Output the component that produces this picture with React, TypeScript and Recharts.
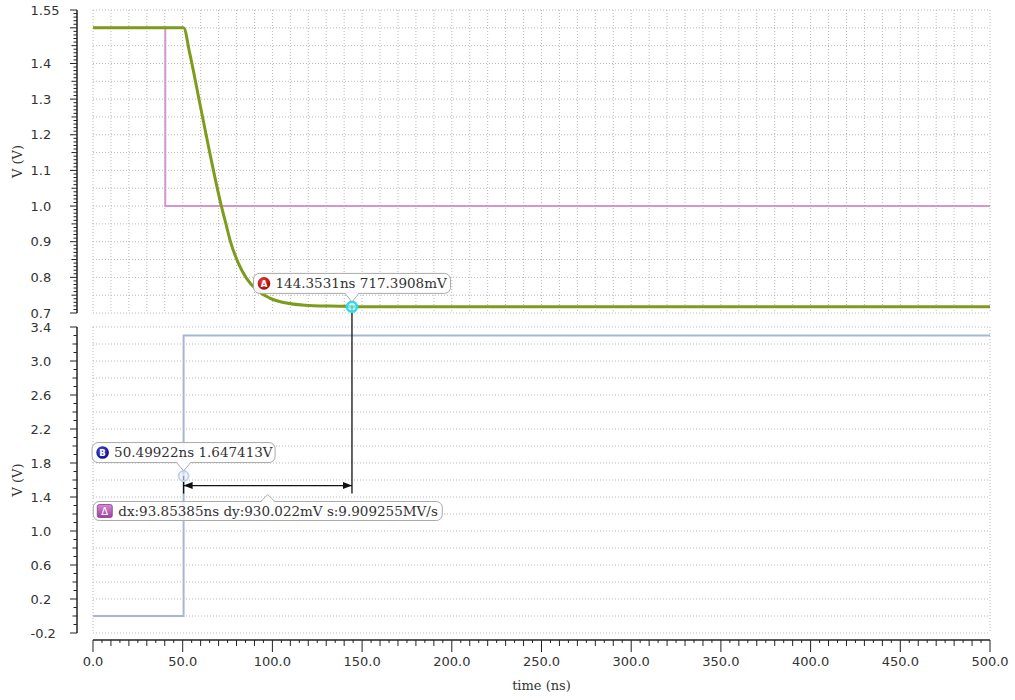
import React from "react";
import {
  LineChart,
  Line,
  XAxis,
  YAxis,
  CartesianGrid,
  ReferenceLine,
  ReferenceDot,
} from "recharts";

// ---------------- data ----------------
const GREEN_T = [0, 50.5, 53.9, 59.5, 65.1, 71.6, 74.0, 76.3, 81.0, 85.5, 91.1, 98.5, 107.8, 122.7, 141.3, 144.3531, 200, 500];
const GREEN_V = [1.5, 1.5, 1.429, 1.289, 1.149, 0.999, 0.952, 0.906, 0.84, 0.798, 0.7655, 0.742, 0.728, 0.7206, 0.7186, 0.7173908, 0.7172, 0.7172];

const PINK_T = [0, 40.3, 40.3, 500];
const PINK_V = [1.5, 1.5, 1.0, 1.0];

const BLUE_T = [0, 50.5, 50.5, 500];
const BLUE_V = [0, 0, 3.3, 3.3];

const MARKER_A = { t: 144.3531, v: 0.7173908 };
const MARKER_B = { t: 50.49922, v: 1.647413 };
const LABEL_A = "144.3531ns 717.3908mV";
const LABEL_B = "50.49922ns 1.647413V";
const LABEL_DELTA = "dx:93.85385ns dy:930.022mV s:9.909255MV/s";
const DELTA_ARROW_V = 1.535;
const DELTA_FOOT_V = 1.44;

const X_DOMAIN: [number, number] = [0, 500];
const TOP_Y_DOMAIN: [number, number] = [0.7, 1.55];
const BOT_Y_DOMAIN: [number, number] = [-0.2, 3.4];

const TOP_Y_LABELS = ["1.55", "1.4", "1.3", "1.2", "1.1", "1.0", "0.9", "0.8", "0.7"];
const BOT_Y_LABELS = ["3.4", "3.0", "2.6", "2.2", "1.8", "1.4", "1.0", "0.6", "0.2", "-0.2"];
const X_LABELS = ["0.0", "50.0", "100.0", "150.0", "200.0", "250.0", "300.0", "350.0", "400.0", "450.0", "500.0"];

const Y_TITLE = "V (V)";
const X_TITLE = "time (ns)";

// ---------------- helpers ----------------
function range(a: number, b: number, step: number): number[] {
  const n = Math.round((b - a) / step);
  return Array.from({ length: n + 1 }, (_, i) => Math.round((a + i * step) * 1000) / 1000);
}
const TOP_Y_TICKS = range(0.7, 1.55, 0.01);
const TOP_GRID_TICKS = range(0.7, 1.55, 0.05);
const BOT_Y_TICKS = range(-0.2, 3.4, 0.1);
const BOT_GRID_TICKS = range(-0.2, 3.4, 0.2);
const X_TICKS = range(0, 500, 5);
const X_GRID_TICKS = range(0, 500, 10);

const toData = (ts: number[], vs: number[]) => ts.map((t, i) => ({ t, v: vs[i] }));
const GREEN_DATA = toData(GREEN_T, GREEN_V);
const PINK_DATA = toData(PINK_T, PINK_V);
const BLUE_DATA = toData(BLUE_T, BLUE_V);

const SERIF = '"DejaVu Serif", serif';
const SANS = '"DejaVu Sans", sans-serif';
const TEXT = "#333";
const AXIS = "#222";
const GRID = "#b8b8b8";

function findLabel(labels: string[], v: number) {
  return labels.find((l) => Math.abs(parseFloat(l) - v) < 1e-6);
}

function makeYTick(labels: string[], lenOf: (k: number, lab?: string) => number) {
  return (props: any) => {
    const { x, y, payload } = props;
    const v = payload.value;
    const lab = findLabel(labels, v);
    const k = Math.round(v * 100);
    const len = lenOf(k, lab);
    return (
      <g>
        <line x1={x} x2={x - len} y1={y} y2={y} stroke={AXIS} strokeWidth={1} />
        {lab && (
          <text x={x - 46.5} y={y} dy={4.7} textAnchor="start" fontSize={13} fontFamily={SANS} fill={TEXT}>
            {lab}
          </text>
        )}
      </g>
    );
  };
}

const TopYTick = makeYTick(TOP_Y_LABELS, (k, lab) => (lab || k % 10 === 0 ? 7 : k % 5 === 0 ? 5.5 : 3.5));
const BotYTick = makeYTick(BOT_Y_LABELS, (k, lab) => (lab ? 7 : k % 20 === 0 ? 4.5 : 3.5));

function XTick(props: any) {
  const { x, y, payload } = props;
  const v = payload.value;
  const lab = findLabel(X_LABELS, v);
  const k = Math.round(v);
  const len = lab ? 12 : k % 10 === 0 ? 6 : 3;
  return (
    <g>
      <line x1={x} x2={x} y1={y} y2={y + len} stroke={AXIS} strokeWidth={1} />
      {lab && (
        <text x={x} y={y} dy={25.5} textAnchor="middle" fontSize={13} fontFamily={SANS} fill={TEXT}>
          {lab}
        </text>
      )}
    </g>
  );
}

function EmptyTick() {
  return <g />;
}

function YTitle(p: any) {
  const vb = p.viewBox || { x: 7, y: 10, width: 70, height: 303 };
  const cx = vb.x + 10.5;
  const cy = vb.y + vb.height / 2;
  return (
    <text
      x={cx}
      y={cy}
      textAnchor="middle"
      dominantBaseline="central"
      transform={`rotate(-90 ${cx} ${cy})`}
      fontSize={13}
      fontFamily={SERIF}
      fill={TEXT}
    >
      {Y_TITLE}
    </text>
  );
}

function XTitle(p: any) {
  const vb = p.viewBox || { x: 93, y: 320, width: 897, height: 60 };
  return (
    <text x={vb.x + vb.width / 2} y={vb.y + 50} textAnchor="middle" fontSize={13} fontFamily={SERIF} fill={TEXT}>
      {X_TITLE}
    </text>
  );
}

function Callout({ cx, cy, width, text, icon }: { cx: number; cy: number; width: number; text: string; icon: React.ReactNode }) {
  const bx = cx - width / 2;
  const by = cy - 33.4;
  const bh = 20;
  const bottom = by + bh;
  return (
    <g>
      <rect x={bx} y={by} width={width} height={bh} rx={6} ry={6} fill="#fff" fillOpacity={0.9} stroke="#a9a9a9" strokeWidth={1} />
      <polygon points={`${cx - 7},${bottom - 0.6} ${cx},${cy - 5} ${cx + 7},${bottom - 0.6}`} fill="#fff" />
      <polyline points={`${cx - 7},${bottom} ${cx},${cy - 5} ${cx + 7},${bottom}`} fill="none" stroke="#a9a9a9" strokeWidth={1} />
      <g transform={`translate(${bx + 10.5},${by + bh / 2})`}>{icon}</g>
      <text x={bx + 22} y={by + bh / 2} dy={4.8} fontSize={13.5} fontFamily={SERIF} fill={TEXT}>
        {text}
      </text>
    </g>
  );
}

function RoundIcon({ id, inner, outer, letter }: { id: string; inner: string; outer: string; letter: string }) {
  return (
    <g>
      <defs>
        <radialGradient id={id} cx="40%" cy="35%" r="70%">
          <stop offset="0%" stopColor={inner} />
          <stop offset="100%" stopColor={outer} />
        </radialGradient>
      </defs>
      <circle r={6.3} fill={`url(#${id})`} />
      <text y={3.2} textAnchor="middle" fontSize={8.5} fontWeight="bold" fontFamily={SANS} fill="#fff">
        {letter}
      </text>
    </g>
  );
}

function MarkerA(p: any) {
  const { cx, cy } = p;
  return (
    <g>
      <circle cx={cx} cy={cy} r={5} fill="#bff8ff" fillOpacity={0.7} stroke="#22dff0" strokeWidth={2.4} />
      <circle cx={cx} cy={cy} r={1.4} fill="#22dff0" />
      <Callout cx={cx} cy={cy} width={197} text={LABEL_A} icon={<RoundIcon id="gA" inner="#f04040" outer="#a00000" letter="A" />} />
    </g>
  );
}

function MarkerB(p: any) {
  const { cx, cy } = p;
  return (
    <g>
      <circle cx={cx} cy={cy} r={5} fill="#e6eefa" fillOpacity={0.6} stroke="#c2d2ee" strokeWidth={2} />
      <Callout cx={cx} cy={cy} width={183} text={LABEL_B} icon={<RoundIcon id="gB" inner="#4a4ae0" outer="#0a0a80" letter="B" />} />
    </g>
  );
}

function DeltaArrow(p: any) {
  const { x1, y1, x2 } = p;
  const y = y1;
  const cx = (x1 + x2) / 2;
  const bw = 349;
  const bx = cx - bw / 2;
  const by = y + 16;
  const bh = 19;
  return (
    <g>
      <line x1={x1} x2={x2} y1={y} y2={y} stroke="#111" strokeWidth={1.3} />
      <polygon points={`${x1},${y} ${x1 + 9},${y - 3.5} ${x1 + 9},${y + 3.5}`} fill="#111" />
      <polygon points={`${x2},${y} ${x2 - 9},${y - 3.5} ${x2 - 9},${y + 3.5}`} fill="#111" />
      <rect x={bx} y={by} width={bw} height={bh} rx={6} ry={6} fill="#fff" fillOpacity={0.8} stroke="#a9a9a9" strokeWidth={1} />
      <polygon points={`${cx - 7},${by + 0.6} ${cx},${y + 9} ${cx + 7},${by + 0.6}`} fill="#fff" />
      <polyline points={`${cx - 7},${by} ${cx},${y + 9} ${cx + 7},${by}`} fill="none" stroke="#a9a9a9" strokeWidth={1} />
      <defs>
        <linearGradient id="gD" x1="0" y1="0" x2="0" y2="1">
          <stop offset="0%" stopColor="#d68ad6" />
          <stop offset="100%" stopColor="#9c409c" />
        </linearGradient>
      </defs>
      <rect x={bx + 4} y={by + 3} width={15} height={13} rx={2} fill="url(#gD)" stroke="#8a3a8a" strokeWidth={0.8} />
      <text x={bx + 11.5} y={by + 13.6} textAnchor="middle" fontSize={10} fontFamily={SANS} fill="#fff">
        Δ
      </text>
      <text x={bx + 25} y={by + bh / 2} dy={4.8} fontSize={13.5} fontFamily={SERIF} fill={TEXT}>
        {LABEL_DELTA}
      </text>
    </g>
  );
}

const hiddenAxis = { tick: EmptyTick, tickLine: false, axisLine: false };

export default function App() {
  return (
    <div style={{ position: "absolute", left: 0, top: 0, width: 1015, height: 700, background: "#fff" }}>
      {/* top panel */}
      <div style={{ position: "absolute", left: 0, top: 0 }}>
        <LineChart width={1015} height={320} margin={{ top: 10, right: 25, bottom: 7, left: 7 }}>
          <XAxis
            xAxisId="x"
            dataKey="t"
            type="number"
            domain={X_DOMAIN}
            ticks={X_GRID_TICKS}
            interval={0}
            height={0}
            {...hiddenAxis}
          />
          <YAxis yAxisId="gap" type="number" domain={TOP_Y_DOMAIN} ticks={TOP_GRID_TICKS} interval={0} width={16} allowDataOverflow {...hiddenAxis} />
          <YAxis
            yAxisId="v"
            type="number"
            domain={TOP_Y_DOMAIN}
            ticks={TOP_Y_TICKS}
            interval={0}
            width={70}
            allowDataOverflow
            tickSize={0}
            tickMargin={0}
            tickLine={false}
            axisLine={{ stroke: AXIS, strokeWidth: 1.5 }}
            tick={TopYTick}
            label={YTitle}
          />
          <CartesianGrid xAxisId="x" yAxisId="gap" stroke={GRID} strokeDasharray="1 2" />
          <Line xAxisId="x" yAxisId="v" data={PINK_DATA} dataKey="v" type="linear" stroke="#d795cf" strokeWidth={2} dot={false} isAnimationActive={false} />
          <Line xAxisId="x" yAxisId="v" data={GREEN_DATA} dataKey="v" type="monotone" stroke="#7d9b1d" strokeWidth={3} dot={false} isAnimationActive={false} />
          <ReferenceLine
            xAxisId="x"
            yAxisId="v"
            segment={[
              { x: MARKER_A.t, y: MARKER_A.v },
              { x: MARKER_A.t, y: 0.6 },
            ]}
            ifOverflow="visible"
            stroke="#111"
            strokeWidth={1.3}
          />
          <ReferenceDot xAxisId="x" yAxisId="v" x={MARKER_A.t} y={MARKER_A.v} r={5} ifOverflow="visible" shape={MarkerA} />
        </LineChart>
      </div>

      {/* bottom panel */}
      <div style={{ position: "absolute", left: 0, top: 320 }}>
        <LineChart width={1015} height={380} margin={{ top: 7, right: 25, bottom: 0, left: 7 }}>
          <XAxis xAxisId="gap" dataKey="t" type="number" domain={X_DOMAIN} ticks={X_GRID_TICKS} interval={0} height={7} {...hiddenAxis} />
          <XAxis
            xAxisId="x"
            dataKey="t"
            type="number"
            domain={X_DOMAIN}
            ticks={X_TICKS}
            interval={0}
            height={60}
            tickSize={0}
            tickMargin={0}
            tickLine={false}
            axisLine={{ stroke: AXIS, strokeWidth: 1.5 }}
            tick={XTick}
            label={XTitle}
          />
          <YAxis yAxisId="gap" type="number" domain={BOT_Y_DOMAIN} ticks={BOT_GRID_TICKS} interval={0} width={16} allowDataOverflow {...hiddenAxis} />
          <YAxis
            yAxisId="v"
            type="number"
            domain={BOT_Y_DOMAIN}
            ticks={BOT_Y_TICKS}
            interval={0}
            width={70}
            allowDataOverflow
            tickSize={0}
            tickMargin={0}
            tickLine={false}
            axisLine={{ stroke: AXIS, strokeWidth: 1.5 }}
            tick={BotYTick}
            label={YTitle}
          />
          <CartesianGrid xAxisId="gap" yAxisId="gap" stroke={GRID} strokeDasharray="1 2" />
          <Line xAxisId="x" yAxisId="v" data={BLUE_DATA} dataKey="v" type="linear" stroke="#a8b6d6" strokeWidth={2} dot={false} isAnimationActive={false} />
          <ReferenceLine
            xAxisId="x"
            yAxisId="v"
            segment={[
              { x: MARKER_A.t, y: DELTA_FOOT_V },
              { x: MARKER_A.t, y: 3.6 },
            ]}
            ifOverflow="visible"
            stroke="#111"
            strokeWidth={1.3}
          />
          <ReferenceLine
            xAxisId="x"
            yAxisId="v"
            segment={[
              { x: MARKER_B.t, y: MARKER_B.v },
              { x: MARKER_B.t, y: DELTA_FOOT_V },
            ]}
            ifOverflow="visible"
            stroke="#111"
            strokeWidth={1.3}
          />
          <ReferenceLine
            xAxisId="x"
            yAxisId="v"
            segment={[
              { x: MARKER_B.t, y: DELTA_ARROW_V },
              { x: MARKER_A.t, y: DELTA_ARROW_V },
            ]}
            ifOverflow="visible"
            shape={DeltaArrow}
          />
          <ReferenceDot xAxisId="x" yAxisId="v" x={MARKER_B.t} y={MARKER_B.v} r={5} ifOverflow="visible" shape={MarkerB} />
        </LineChart>
      </div>
    </div>
  );
}
